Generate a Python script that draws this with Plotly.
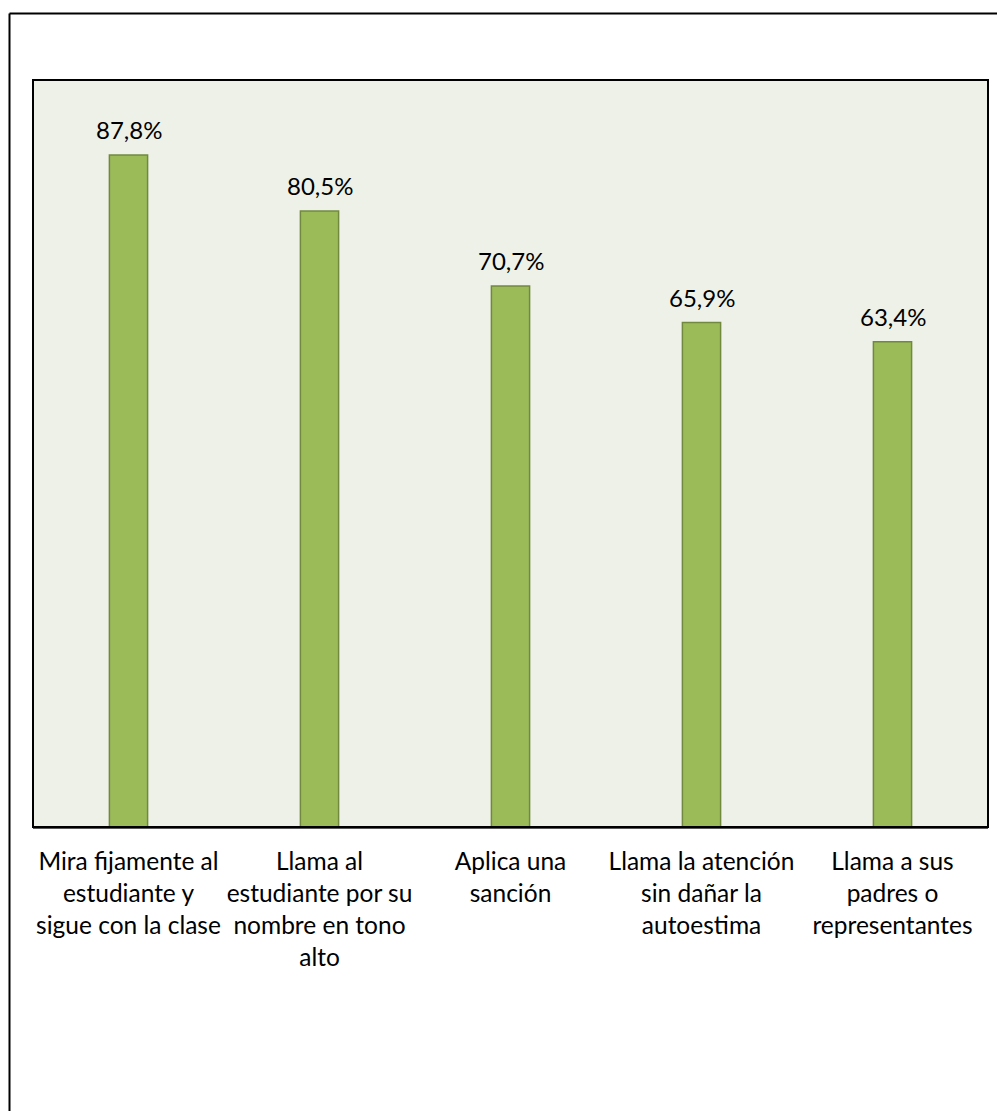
import plotly.graph_objects as go

# Responses and their share (%)
categories = [
    "Mira fijamente al<br>estudiante y<br>sigue con la clase",
    "Llama al<br>estudiante por su<br>nombre en tono<br>alto",
    "Aplica una<br>sanción",
    "Llama la atención<br>sin dañar la<br>autoestima",
    "Llama a sus<br>padres o<br>representantes",
]
values = [87.8, 80.5, 70.7, 65.9, 63.4]

W, H = 997, 1111
L, R, T, B = 33, 9, 80, 284
pw, ph = W - L - R, H - T - B

FONT = "Lato"
BAR = "#9BBB59"
BAR_EDGE = "#71893F"
BG = "#EEF1E8"

fig = go.Figure(
    go.Bar(
        x=list(range(len(values))),
        y=values,
        width=0.2,
        marker=dict(color=BAR, line=dict(color=BAR_EDGE, width=1.5)),
        hoverinfo="skip",
    )
)

# value labels above each bar
for i, v in enumerate(values):
    fig.add_annotation(
        x=i, y=v, text=f"{v:.1f}".replace(".", ",") + "%",
        showarrow=False, yanchor="bottom", yshift=9,
        font=dict(family=FONT, size=24, color="#000000"),
    )

# outer frame (left and top edges visible)
fx0 = (9.5 - L) / pw
fy0 = (H - B - 13.5) / ph
fig.add_shape(type="line", xref="paper", yref="paper",
              x0=fx0, x1=fx0, y0=fy0, y1=-0.5,
              line=dict(color="#000000", width=2))
fig.add_shape(type="line", xref="paper", yref="paper",
              x0=fx0, x1=1.05, y0=fy0, y1=fy0,
              line=dict(color="#000000", width=2))
# plot-area border
fig.add_shape(type="rect", xref="paper", yref="paper",
              x0=0, x1=1, y0=0, y1=1,
              line=dict(color="#000000", width=2), layer="above")

fig.update_layout(
    width=W, height=H,
    margin=dict(l=L, r=R, t=T, b=B, pad=0),
    paper_bgcolor="#FFFFFF",
    plot_bgcolor=BG,
    showlegend=False,
    font=dict(family=FONT, size=24, color="#000000"),
    xaxis=dict(
        tickmode="array",
        tickvals=list(range(len(values))),
        ticktext=categories,
        range=[-0.5, len(values) - 0.5],
        showgrid=False, zeroline=False,
        ticks="outside", ticklen=12, tickcolor="rgba(0,0,0,0)",
        tickfont=dict(family=FONT, size=24.5, color="#000000"),
        showline=True, linecolor="#595959", linewidth=2,
    ),
    yaxis=dict(
        range=[0, 97.6],
        showgrid=False, zeroline=False,
        showticklabels=False, ticks="",
    ),
)

fig.write_html("out.html")
